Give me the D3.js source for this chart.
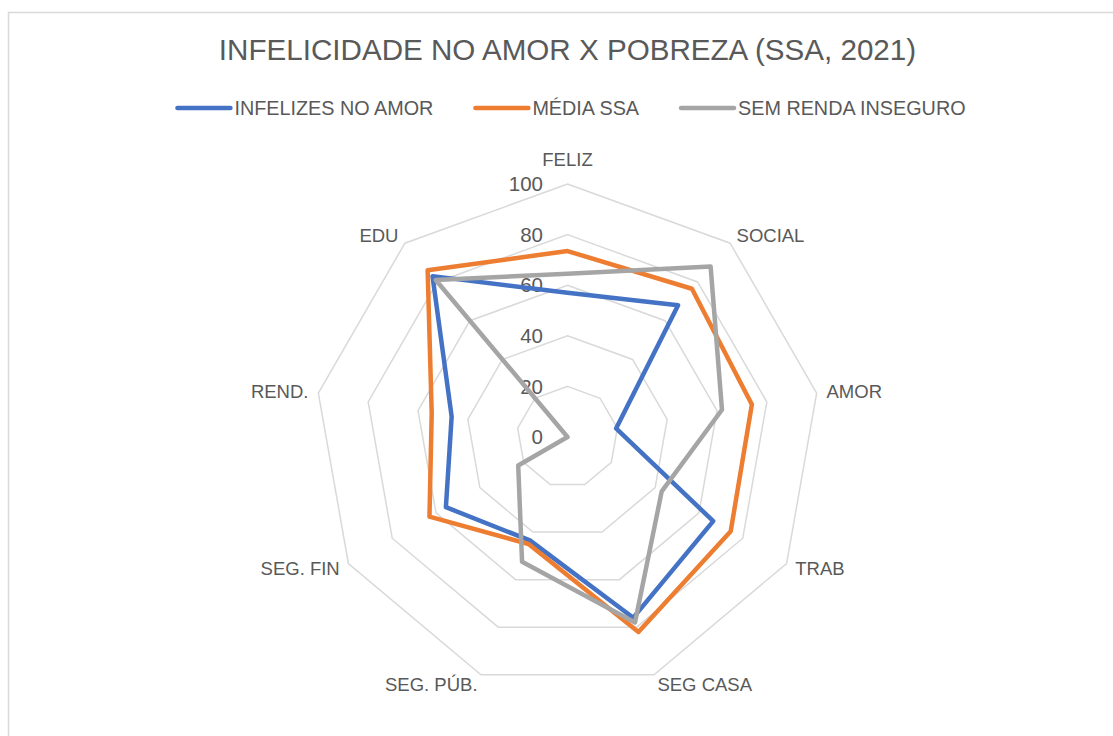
<!DOCTYPE html>
<html>
<head>
<meta charset="utf-8">
<script src="https://cdn.jsdelivr.net/npm/d3@7"></script>
<style>
  body { margin: 0; background: #fff; }
</style>
</head>
<body>
<div id="chart"></div>
<script>
// axes of the radar, clockwise from the top
const axes = ["FELIZ", "SOCIAL", "AMOR", "TRAB", "SEG CASA", "SEG. PÚB.", "SEG. FIN", "REND.", "EDU"];
const seriesNames = ["INFELIZES NO AMOR", "MÉDIA SSA", "SEM RENDA INSEGURO"];
const infelizes = [57, 68, 19.5, 66.5, 76, 43.5, 55.5, 46.5, 83];
const mediaSSA = [73.5, 76.5, 74, 74.5, 82, 45, 63, 54.5, 86];
const semRenda = [64.5, 88, 62, 43, 78, 52.5, 22.5, 0, 81];
const ticks = [0, 20, 40, 60, 80, 100];
const colors = ["#4472C4", "#ED7D31", "#A5A5A5"];

const width = 1113, height = 736;
const cx = 567.5, cy = 437, R = 253;
const textColor = "#595959";

const svg = d3.select("#chart")
  .append("svg")
    .attr("width", width)
    .attr("height", height)
    .attr("font-family", "'Liberation Sans', Arial, sans-serif");

// chart frame (runs off the right and bottom edges)
svg.append("rect")
  .attr("x", 8.5).attr("y", 12.5)
  .attr("width", 1200).attr("height", 1000)
  .attr("fill", "none")
  .attr("stroke", "#d9d9d9")
  .attr("stroke-width", 1.5);

svg.append("text")
  .attr("x", cx).attr("y", 60)
  .attr("text-anchor", "middle")
  .attr("font-size", 29.6)
  .attr("fill", textColor)
  .text("INFELICIDADE NO AMOR X POBREZA (SSA, 2021)");

const r = d3.scaleLinear().domain([0, 100]).range([0, R]);
const angle = d3.scalePoint().domain(axes).range([0, 2 * Math.PI * (axes.length - 1) / axes.length]);

function pt(axis, v) {
  const a = angle(axis);
  return [cx + r(v) * Math.sin(a), cy - r(v) * Math.cos(a)];
}

const g = svg.append("g");

// rings
g.selectAll(".ring").data(ticks.filter(t => t > 0)).enter()
  .append("polygon")
    .attr("class", "ring")
    .attr("points", t => axes.map(a => pt(a, t).join(",")).join(" "))
    .attr("fill", "none")
    .attr("stroke", "#d9d9d9")
    .attr("stroke-width", 1.5);

// tick labels
g.selectAll(".tick").data(ticks).enter()
  .append("text")
    .attr("class", "tick")
    .attr("x", cx - 24.5)
    .attr("y", t => cy - r(t))
    .attr("dy", "0.35em")
    .attr("text-anchor", "end")
    .attr("font-size", 20.5)
    .attr("fill", textColor)
    .text(t => t);

// axis labels
g.selectAll(".axlabel").data(axes).enter()
  .append("text")
    .attr("class", "axlabel")
    .attr("x", a => cx + (R + 10) * Math.sin(angle(a)))
    .attr("y", a => {
      const s = Math.sin(angle(a)), c = Math.cos(angle(a));
      let y = cy - (R + 10) * c;
      if (Math.abs(s) < 0.1) y -= Math.sign(c) * 14;
      return y;
    })
    .attr("dy", "0.35em")
    .attr("text-anchor", a => {
      const s = Math.sin(angle(a));
      return s > 0.1 ? "start" : (s < -0.1 ? "end" : "middle");
    })
    .attr("font-size", 18.5)
    .attr("fill", textColor)
    .text(a => a);

// series
const allSeries = [infelizes, mediaSSA, semRenda];
const line = d3.line().curve(d3.curveLinearClosed);

g.selectAll(".series").data(allSeries).enter()
  .append("path")
    .attr("class", "series")
    .attr("d", vals => line(axes.map((a, i) => pt(a, vals[i]))))
    .attr("fill", "none")
    .attr("stroke", (d, i) => colors[i])
    .attr("stroke-width", 4.5)
    .attr("stroke-linejoin", "round");

// legend, laid out from the text widths then centred
const legend = svg.append("g");
const items = legend.selectAll(".item").data(seriesNames).enter()
  .append("g").attr("class", "item");
items.append("line")
  .attr("x1", 0).attr("x2", 53)
  .attr("y1", 108).attr("y2", 108)
  .attr("stroke", (d, i) => colors[i])
  .attr("stroke-width", 4.5)
  .attr("stroke-linecap", "round");
items.append("text")
  .attr("x", 57).attr("y", 115)
  .attr("font-size", 19.8)
  .attr("fill", textColor)
  .text(d => d);

let xPos = 0;
items.each(function() {
  const w = 57 + d3.select(this).select("text").node().getComputedTextLength();
  d3.select(this).attr("transform", `translate(${xPos},0)`);
  xPos += w + 42;
});
const total = xPos - 42;
legend.attr("transform", `translate(${cx + 4 - total / 2},0)`);
</script>
</body>
</html>
